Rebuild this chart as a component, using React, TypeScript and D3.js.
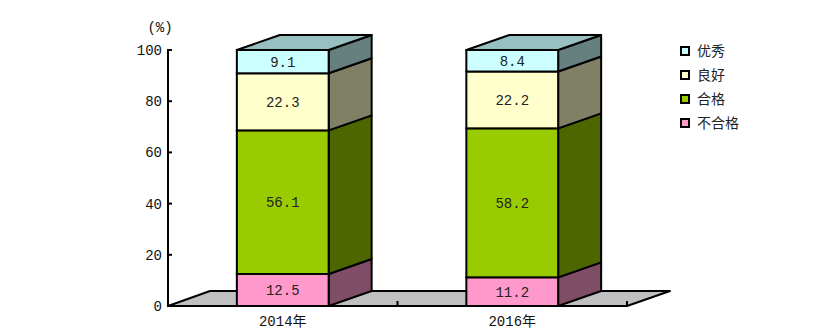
import React from "react";
import * as d3 from "d3";

const years = ["2014年", "2016年"];
const seriesNames = ["不合格", "合格", "良好", "优秀"];
const buhege = [12.5, 11.2];
const hege = [56.1, 58.2];
const lianghao = [22.3, 22.2];
const youxiu = [9.1, 8.4];
const yTicks = [0, 20, 40, 60, 80, 100];

const frontColors = ["#ff99cc", "#99cc00", "#ffffcc", "#ccffff"];
const sideColors = ["#804d66", "#4d6600", "#808066", "#668080"];
const topColor = "#99c0c0";

const W = 815;
const H = 335;

export default function App() {
  const series = [buhege, hege, lianghao, youxiu];
  const y = d3.scaleLinear().domain([0, 100]).range([306, 50]);
  const x = d3.scaleBand<string>().domain(years).range([168, 627]).padding(0);
  const dx = 43;
  const dy = 15;
  const barW = x.bandwidth() * 0.4;
  const floorY = y(0);
  const mono = "'Liberation Mono', 'DejaVu Sans Mono', 'Noto Sans CJK SC', monospace";
  const cjk = "'Noto Sans CJK SC', sans-serif";

  const pts = (p: number[][]) => p.map((q) => q.join(",")).join(" ");

  const legendOrder = [3, 2, 1, 0];

  return (
    <svg
      width={W}
      height={H}
      style={{ position: "absolute", left: 0, top: 0, background: "#fff" }}
    >
      {/* floor */}
      <polygon
        points={pts([
          [168, floorY],
          [168 + dx - 1, floorY - dy],
          [627 + dx, floorY - dy],
          [627, floorY],
        ])}
        fill="#c0c0c0"
        stroke="#000"
        strokeWidth={2}
        strokeLinejoin="round"
      />
      {/* category separator ticks */}
      {[x(years[1])!, 627].map((tx, i) => (
        <line key={i} x1={tx} x2={tx} y1={floorY} y2={floorY - 5} stroke="#000" strokeWidth={2} />
      ))}
      {/* y axis */}
      <line x1={168} x2={168} y1={y(100)} y2={floorY} stroke="#000" strokeWidth={2} />
      {yTicks.map((t) => (
        <g key={t}>
          <line x1={167} x2={172} y1={y(t)} y2={y(t)} stroke="#000" strokeWidth={2} />
          <text
            x={162}
            y={y(t)}
            dy="0.35em"
            textAnchor="end"
            fontSize={14}
            fontFamily={mono}
            fill="#111"
          >
            {t}
          </text>
        </g>
      ))}
      <text x={160} y={27} dy="0.35em" textAnchor="middle" fontSize={14} fontFamily={mono} fill="#111">
        (%)
      </text>

      {/* bars */}
      {years.map((yr, i) => {
        const cx = x(yr)! + x.bandwidth() / 2;
        const x0 = cx - barW / 2;
        const x1 = cx + barW / 2;
        let cum = 0;
        const segs = series.map((s, k) => {
          const v = s[i];
          const b = cum;
          cum += v;
          return { k, v, b, t: cum };
        });
        return (
          <g key={yr}>
            {segs.map(({ k, v, b, t }) => {
              const yb = y(b);
              const yt = y(t);
              return (
                <g key={k}>
                  <polygon
                    points={pts([
                      [x1, yb],
                      [x1 + dx, yb - dy],
                      [x1 + dx, yt - dy],
                      [x1, yt],
                    ])}
                    fill={sideColors[k]}
                    stroke="#000"
                    strokeWidth={2}
                    strokeLinejoin="round"
                  />
                  <rect
                    x={x0}
                    y={yt}
                    width={x1 - x0}
                    height={yb - yt}
                    fill={frontColors[k]}
                    stroke="#000"
                    strokeWidth={2}
                  />
                  <text
                    x={cx}
                    y={(yt + yb) / 2}
                    dy="0.35em"
                    textAnchor="middle"
                    fontSize={14}
                    fontFamily={mono}
                    fill="#222"
                  >
                    {v.toFixed(1)}
                  </text>
                </g>
              );
            })}
            <polygon
              points={pts([
                [x0, y(cum)],
                [x0 + dx, y(cum) - dy],
                [x1 + dx, y(cum) - dy],
                [x1, y(cum)],
              ])}
              fill={topColor}
              stroke="#000"
              strokeWidth={2}
              strokeLinejoin="round"
            />
            <text
              x={cx}
              y={321}
              dy="0.35em"
              textAnchor="middle"
              fontSize={14}
              fontFamily={mono}
              fill="#111"
            >
              {yr}
            </text>
          </g>
        );
      })}

      {/* legend */}
      {legendOrder.map((k, j) => {
        const ly = 51 + j * 24;
        return (
          <g key={k}>
            <rect x={681} y={ly - 4} width={8} height={8} fill={frontColors[k]} stroke="#000" strokeWidth={2} />
            <text x={697} y={ly} dy="0.35em" fontSize={14} fontFamily={cjk} fill="#222">
              {seriesNames[k]}
            </text>
          </g>
        );
      })}
    </svg>
  );
}
